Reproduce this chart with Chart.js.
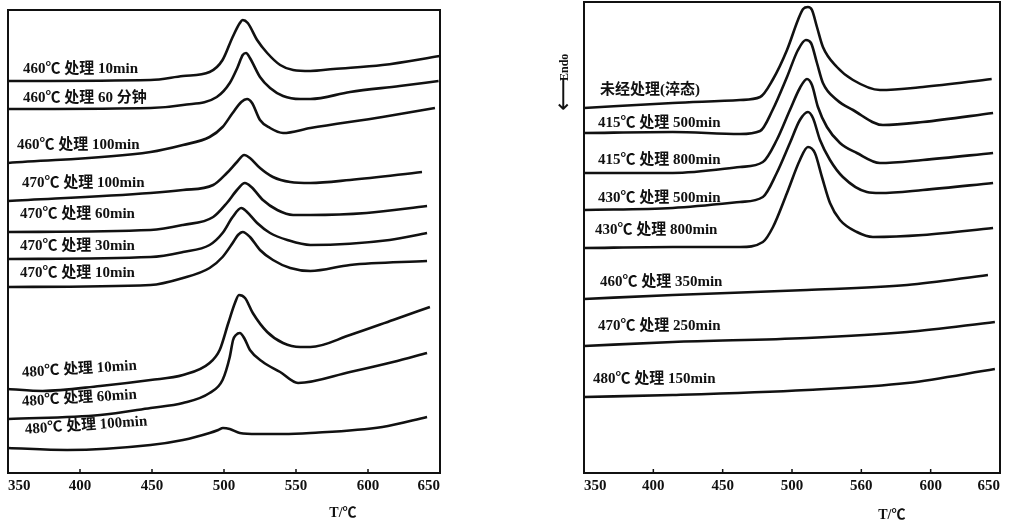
<!DOCTYPE html>
<html>
<head>
<meta charset="utf-8">
<title>DSC curves</title>
<script src="https://cdn.jsdelivr.net/npm/chart.js@4.4.1/dist/chart.umd.min.js"></script>
<style>
    html, body { margin: 0; padding: 0; background: #fff; }
    #wrap { position: relative; width: 1015px; height: 526px; overflow: hidden; }
    .panel { position: absolute; top: 0; height: 526px; }
    #panel-left { left: 0; width: 470px; }
    #panel-right { left: 540px; width: 475px; }
</style>
</head>
<body>
<div id="wrap">
    <div class="panel" id="panel-left"><canvas id="dsc-left" width="470" height="526"></canvas></div>
    <div class="panel" id="panel-right"><canvas id="dsc-right" width="475" height="526"></canvas></div>
</div>
<script>
/* DSC heating curves of the alloy after different treatments */
(function () {
    "use strict";

    /* x axis: temperature */
    var tempTicks = [350, 400, 450, 500, 550, 600, 650];
    var leftTickLabels = ["350", "400", "450", "500", "550", "600", "650"];
    var rightTickLabels = ["350", "400", "450", "500", "560", "600", "650"]; // printed "560" in the figure

    /* left panel — [T (℃), heat flow (arb. units, offset traces)] */
    var L460_10 = [[350, 392], [449, 393], [471.5, 397], [490, 401], [499, 413], [506, 436], [511, 450], [513, 453], [516.5, 450], [523, 433], [530, 420], [539, 408], [548, 403], [560, 402], [576, 404], [610, 408], [650, 417]];
    var L460_60 = [[350, 364], [449, 365], [471.5, 368], [495, 376], [504, 390], [509.5, 406], [513, 418], [515.3, 420], [518, 415], [525, 396], [532, 385], [541, 377], [553, 374], [560, 374], [587.5, 381], [622, 387], [649, 392]];
    var L460_100 = [[350, 310], [449, 321], [471.5, 328], [490, 336], [499, 346], [506, 360], [512, 371], [516, 374], [519.5, 370], [525, 353], [532, 345], [541, 340], [560, 345], [610, 356], [646.5, 365]];
    var L470_100 = [[350, 272], [449, 280], [471.5, 283], [492.5, 288], [502, 300], [509, 311], [514, 318], [518, 315], [525, 305], [534, 296], [546, 291], [560, 290], [587.5, 293], [637.5, 301]];
    var L470_60 = [[350, 241], [449, 243], [471.5, 248], [492.5, 256], [502, 270], [509, 283], [514.5, 290], [519, 286], [527, 273], [537, 263], [548, 258], [560, 258], [599, 260], [641, 267]];
    var L470_30 = [[350, 214], [449, 216], [471.5, 221], [490, 228], [499, 240], [506, 256], [512, 265], [516, 261], [523, 250], [532, 240], [544, 233], [560, 228], [615, 233], [641, 240]];
    var L470_10 = [[350, 186], [449, 188], [471.5, 195], [490, 205], [499, 216], [506, 230], [509.7, 238], [513, 241], [518, 236], [525, 223], [534, 213], [546, 205], [560, 202], [587.5, 208], [641, 212]];
    var L480_10 = [[350, 84], [374, 82], [414, 87], [449, 93], [471.5, 98], [490, 110], [497, 123], [503, 150], [507.6, 170], [510.4, 178], [514.6, 175], [520, 160], [530, 141], [541, 130], [553, 126], [560, 126], [587.5, 138], [617.4, 153], [643, 166]];
    var L480_60 = [[350, 54], [414, 58], [449, 65], [471.5, 70], [490, 80], [499, 93], [504, 116], [506.3, 133], [508.3, 138], [511, 140], [514, 135], [518, 123], [527, 111], [539, 101], [551.4, 90], [587.5, 101], [617.4, 111], [641, 120]];
    var L480_100 = [[350, 25], [391, 23], [449, 28], [471.5, 33], [490, 40], [496, 43], [499.3, 45], [504, 44], [511, 40], [523, 39], [541, 39], [560, 40], [610, 46], [641, 56]];

    var leftSeries = [L460_10, L460_60, L460_100, L470_100, L470_60, L470_30, L470_10, L480_10, L480_60, L480_100];
    var leftNames = ["460℃ 处理 10min", "460℃ 处理 60 分钟", "460℃ 处理 100min", "470℃ 处理 100min", "470℃ 处理 60min",
        "470℃ 处理 30min", "470℃ 处理 10min", "480℃ 处理 10min", "480℃ 处理 60min", "480℃ 处理 100min"];
    /* where each name sits (T, heat flow) and its tilt */
    var leftLabelT = [360.4, 360.4, 356.3, 359.7, 358.3, 358.3, 358.3, 359.7, 359.7, 361.8];
    var leftLabelY = [404, 375, 328, 290, 259, 227, 200, 100, 71, 43];
    var leftLabelTilt = [0, 0, 0, 0, 0, 0, 0, -3.5, -3.5, -4];

    /* right panel */
    var R_asq = [[350, 365], [414, 370], [462.5, 373], [477, 376], [486, 393], [496.4, 423], [504.3, 453], [508, 464], [511.5, 466], [514.4, 463], [518, 446], [522.3, 426], [532.4, 406], [544, 393], [563.4, 383], [594.4, 386], [644, 394]];
    var R415_500 = [[350, 340], [414, 341], [462.5, 339], [477, 342], [486, 363], [496.4, 396], [504.3, 423], [510, 433], [513.7, 430], [518, 410], [522.3, 390], [532.4, 373], [544, 363], [565.6, 348], [594.4, 351], [645, 360]];
    var R415_800 = [[350, 300], [414, 300], [462.5, 306], [479, 311], [489, 333], [498.5, 363], [505.7, 385], [510.8, 394], [514.4, 388], [518.7, 366], [525.2, 346], [534.6, 330], [546.8, 320], [563.4, 310], [594.4, 313], [645, 320]];
    var R430_500 = [[350, 263], [414, 265], [462.5, 271], [479, 276], [489, 300], [498.5, 330], [505.7, 353], [511.5, 361], [515.1, 355], [520.2, 333], [527.4, 313], [536.7, 296], [554, 281], [563.4, 280], [594.4, 283], [645, 290]];
    var R430_800 = [[350, 225], [414, 226], [462.5, 226], [479, 231], [486.3, 246], [496.4, 280], [505.7, 313], [511.5, 326], [516.5, 320], [521.6, 296], [527.4, 270], [534.6, 253], [546.8, 241], [558.4, 236], [594.4, 238], [645, 245]];
    var R460_350 = [[350, 174], [414, 178], [510.8, 183], [583, 188], [641.3, 198]];
    var R470_250 = [[350, 127], [414, 131], [510.8, 135], [583, 141], [646.3, 151]];
    var R480_150 = [[350, 76], [414, 78], [510.8, 83], [583, 90], [646.3, 104]];

    var rightSeries = [R_asq, R415_500, R415_800, R430_500, R430_800, R460_350, R470_250, R480_150];
    var rightNames = ["未经处理(淬态)", "415℃ 处理 500min", "415℃ 处理 800min", "430℃ 处理 500min",
        "430℃ 处理 800min", "460℃ 处理 350min", "470℃ 处理 250min", "480℃ 处理 150min"];
    var rightLabelT = [361.5, 360.1, 360.1, 360.1, 357.9, 361.5, 360.1, 356.5];
    var rightLabelY = [383, 350, 313, 275, 243, 191, 147, 94];
    var rightLabelTilt = [0, 0, 0, 0, 0, 0, 0, 0];

    var LABEL_FONT = "bold 15px 'Liberation Serif', 'Noto Sans CJK SC', serif";
    var TICK_FONT = { family: "'Liberation Serif', serif", size: 15, weight: "bold" };
    var INK = "#111";

    /* frame, inner tick marks, curve names, axis title */
    var dscDecor = {
        id: "dscDecor",
        afterDatasetsDraw: function (chart, args, o) {
            var ctx = chart.ctx;
            var a = chart.chartArea;
            var xs = chart.scales.x;
            var ys = chart.scales.y;
            ctx.save();

            ctx.strokeStyle = INK;
            ctx.lineWidth = 2;
            ctx.strokeRect(a.left, a.top, a.right - a.left, a.bottom - a.top);

            ctx.lineWidth = 1.5;
            tempTicks.slice(1, -1).forEach(function (t) {
                var px = xs.getPixelForValue(t);
                ctx.beginPath();
                ctx.moveTo(px, a.bottom);
                ctx.lineTo(px, a.bottom - 4);
                ctx.stroke();
            });

            ctx.fillStyle = INK;
            ctx.font = LABEL_FONT;
            ctx.textAlign = "left";
            ctx.textBaseline = "middle";
            o.names.forEach(function (name, i) {
                ctx.save();
                ctx.translate(xs.getPixelForValue(o.labelT[i]), ys.getPixelForValue(o.labelY[i]));
                ctx.rotate(o.tilt[i] * Math.PI / 180);
                ctx.fillText(name, 0, 0);
                ctx.restore();
            });

            ctx.font = "bold 14px 'Liberation Serif', 'Noto Sans CJK SC', serif";
            ctx.textAlign = "center";
            ctx.fillText("T/℃", xs.getPixelForValue(o.titleT), a.bottom + o.titleDy);

            if (o.endo) {
                ctx.save();
                ctx.translate(a.left - 19, ys.getPixelForValue(o.endoY));
                ctx.rotate(-Math.PI / 2);
                ctx.textAlign = "left";
                ctx.font = "24px 'DejaVu Sans'";
                ctx.fillText("⟵", -30, 0);
                ctx.font = "bold 12px 'Liberation Serif', serif";
                ctx.fillText("Endo", 0, 0);
                ctx.restore();
            }
            ctx.restore();
        }
    };

    function toPoints(series) {
        return series.map(function (p) { return { x: p[0], y: p[1] }; });
    }

    function makeChart(canvasId, series, tickLabels, yMax, padding, decor) {
        return new Chart(document.getElementById(canvasId).getContext("2d"), {
            type: "line",
            data: {
                datasets: series.map(function (s) {
                    return {
                        data: toPoints(s),
                        borderColor: INK,
                        borderWidth: 2.6,
                        pointRadius: 0,
                        fill: false,
                        cubicInterpolationMode: "monotone"
                    };
                })
            },
            options: {
                responsive: false,
                animation: false,
                events: [],
                layout: { padding: padding },
                plugins: {
                    legend: { display: false },
                    tooltip: { enabled: false },
                    dscDecor: decor
                },
                scales: {
                    x: {
                        type: "linear",
                        min: 350,
                        max: 650,
                        afterBuildTicks: function (axis) {
                            axis.ticks = tempTicks.map(function (t) { return { value: t }; });
                        },
                        ticks: {
                            autoSkip: false,
                            maxRotation: 0,
                            align: "inner",
                            padding: 4,
                            color: INK,
                            font: TICK_FONT,
                            callback: function (v, i) { return tickLabels[i]; }
                        },
                        grid: { display: false, drawTicks: false },
                        border: { display: false }
                    },
                    y: { display: false, min: 0, max: yMax }
                }
            },
            plugins: [dscDecor]
        });
    }

    makeChart("dsc-left", leftSeries, leftTickLabels, 463,
        { left: 8, right: 30, top: 10, bottom: 27 },
        { names: leftNames, labelT: leftLabelT, labelY: leftLabelY, tilt: leftLabelTilt, titleT: 582.6, titleDy: 40, endo: false });

    makeChart("dsc-right", rightSeries, rightTickLabels, 471,
        { left: 44, right: 15, top: 2, bottom: 27 },
        { names: rightNames, labelT: rightLabelT, labelY: rightLabelY, tilt: rightLabelTilt, titleT: 572, titleDy: 42, endo: true, endoY: 392 });
})();
</script>
</body>
</html>
